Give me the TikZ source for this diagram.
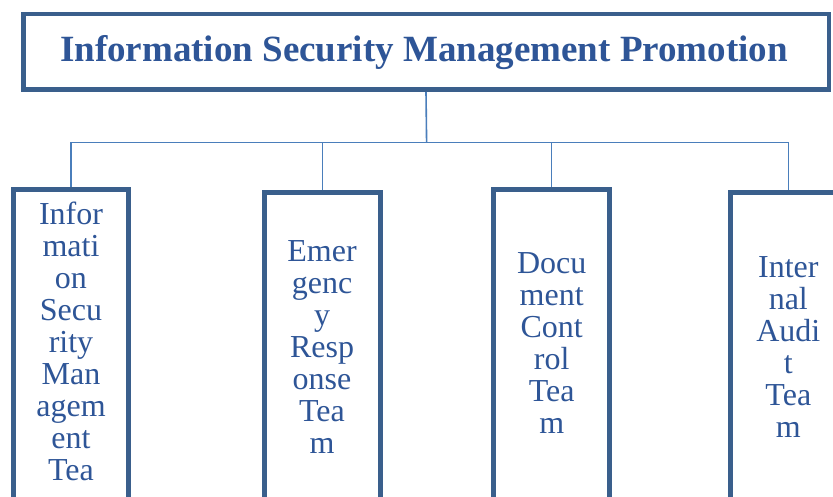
\documentclass[tikz,border=0pt]{standalone}
\usepackage{fontspec}
\setmainfont{Liberation Serif}
\definecolor{boxline}{HTML}{3A5F8C}
\definecolor{linkline}{HTML}{4A7EBB}
\definecolor{labeltext}{HTML}{2E5597}
\tikzset{
  titlebox/.style={draw=boxline, line width=4.5pt, minimum width=805.5pt, minimum height=75.5pt,
    inner sep=0pt, text=labeltext, font=\fontsize{37}{37}\selectfont\bfseries},
  teambox/.style={draw=boxline, line width=4.7pt, minimum width=115.4pt, minimum height=340pt,
    anchor=north, inner sep=0pt, outer sep=2.35pt},
  teamlabel/.style={text=labeltext, font=\fontsize{32}{32}\selectfont, align=center,
    text width=110pt, anchor=base, inner sep=0pt},
  link/.style={draw=linkline, line width=1.6pt}
}
\begin{document}
\begin{tikzpicture}[x=1pt,y=-1pt]
  \clip (0,0) rectangle (833,497);
  \fill[white] (0,0) rectangle (833,497);

  % top level
  \node[titlebox] (top) at (426,52) {};
  \node[text=labeltext, font=\fontsize{37}{37}\selectfont\bfseries, anchor=base, inner sep=0pt]
    (title) at (424,62) {Information Security Management Promotion};

  % team boxes (they run past the lower edge)
  \node[teambox] (b1) at (71,187)  {};
  \node[teambox] (b2) at (322.5,190) {};
  \node[teambox] (b3) at (551.5,187) {};
  \node[teambox] (b4) at (788.5,190) {};

  % team labels
  \node[teamlabel] (t1) at (71,224.3) {Infor\\mati\\on\\Secu\\rity\\Man\\agem\\ent\\Tea};
  \node[teamlabel] (t2) at (322,261.7) {Emer\\genc\\y\\Resp\\onse\\Tea\\m};
  \node[teamlabel] (t3) at (551.7,274) {Docu\\ment\\Cont\\rol\\Tea\\m};
  \node[teamlabel] (t4) at (788.3,277.3) {Inter\\nal\\Audi\\t\\Tea\\m};

  % connectors
  \coordinate (bus) at (426.6,142.7);
  \draw[link] (top.south) -- (bus);
  \draw[link] (b1.north) |- (bus) -| (b4.north);
  \draw[link] (b2.north) -- (b2.north |- bus);
  \draw[link] (b3.north) -- (b3.north |- bus);
\end{tikzpicture}
\end{document}
